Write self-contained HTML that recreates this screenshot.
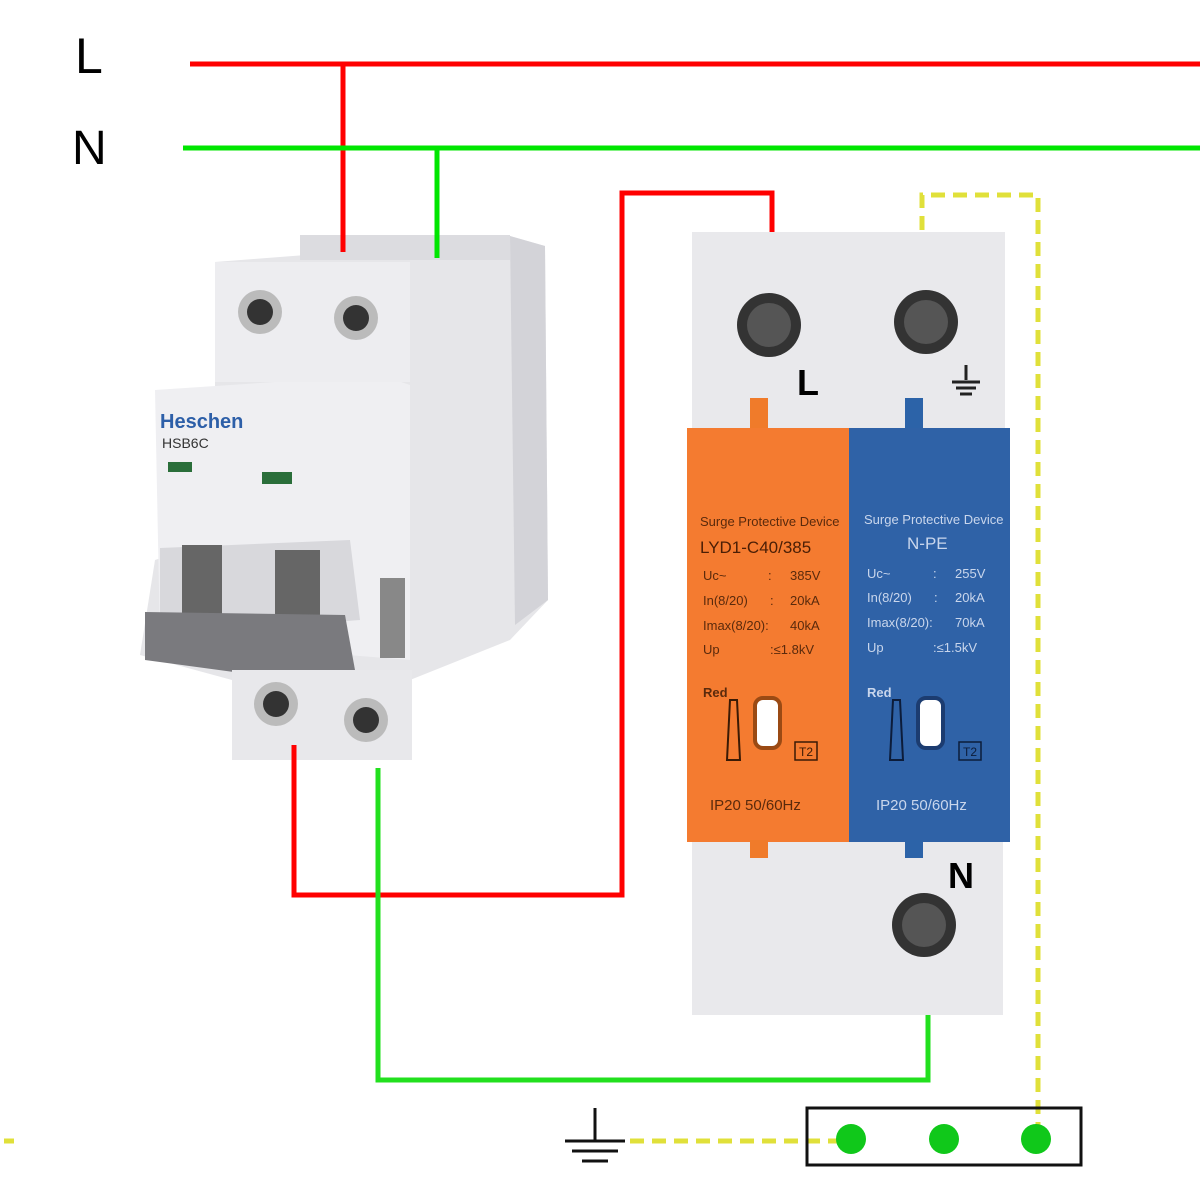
<!DOCTYPE html>
<html><head><meta charset="utf-8"><style>
body{margin:0;width:1200px;height:1200px;background:#fff;overflow:hidden;font-family:"Liberation Sans",sans-serif}
.a{position:absolute}
</style></head><body>
<svg class="a" style="left:0;top:0" width="1200" height="1200" viewBox="0 0 1200 1200">
<text x="75" y="73" font-size="50" font-family="Liberation Sans">L</text>
<text x="72" y="164" font-size="48" font-family="Liberation Sans">N</text>
<!-- breaker -->
<polygon points="215,262 345,252 510,236 545,246 548,600 510,640 410,680 410,740 300,760 232,745 232,680 140,655 155,560 215,540" fill="#e6e6e9"/>
<polygon points="510,236 545,246 548,600 515,625" fill="#d3d3d8"/>
<polygon points="155,390 380,375 410,385 410,660 160,640" fill="#efeff2"/>
<rect x="215" y="262" width="195" height="120" fill="#ededf0"/>
<rect x="300" y="235" width="210" height="25" fill="#dcdce0"/>
<circle cx="260" cy="312" r="22" fill="#bbb"/><circle cx="260" cy="312" r="13" fill="#333"/>
<circle cx="356" cy="318" r="22" fill="#bbb"/><circle cx="356" cy="318" r="13" fill="#333"/>
<text x="160" y="428" font-size="20" font-weight="bold" fill="#2d5fa8">Heschen</text>
<text x="162" y="448" font-size="14" fill="#333">HSB6C</text>
<rect x="168" y="462" width="24" height="10" fill="#2a6e3a"/>
<rect x="262" y="472" width="30" height="12" fill="#2a6e3a"/>
<polygon points="160,548 350,540 360,620 160,635" fill="#d8d8dc"/>
<rect x="182" y="545" width="40" height="80" fill="#666"/>
<rect x="275" y="550" width="45" height="80" fill="#666"/>
<polygon points="145,612 345,615 355,670 330,685 145,660" fill="#7a7a7e"/>
<rect x="380" y="578" width="25" height="80" fill="#888"/>
<rect x="232" y="670" width="180" height="90" fill="#e8e8eb"/>
<circle cx="276" cy="704" r="22" fill="#bbb"/><circle cx="276" cy="704" r="13" fill="#333"/>
<circle cx="366" cy="720" r="22" fill="#bbb"/><circle cx="366" cy="720" r="13" fill="#333"/>
<!-- SPD -->
<rect x="692" y="232" width="313" height="200" fill="#e9e9ec"/>
<rect x="692" y="842" width="311" height="173" fill="#e9e9ec"/>
<circle cx="769" cy="325" r="32" fill="#333"/><circle cx="769" cy="325" r="22" fill="#555"/>
<circle cx="926" cy="322" r="32" fill="#333"/><circle cx="926" cy="322" r="22" fill="#555"/>
<circle cx="924" cy="925" r="32" fill="#333"/><circle cx="924" cy="925" r="22" fill="#555"/>
<text x="797" y="395" font-size="36" font-weight="bold">L</text>
<text x="948" y="888" font-size="36" font-weight="bold">N</text>
<g stroke="#222" stroke-width="3"><line x1="966" y1="365" x2="966" y2="380"/><line x1="952" y1="382" x2="980" y2="382"/><line x1="956" y1="388" x2="976" y2="388"/><line x1="960" y1="394" x2="972" y2="394"/></g>
<rect x="750" y="398" width="18" height="32" fill="#f07b2a"/>
<rect x="905" y="398" width="18" height="32" fill="#2c63a8"/>
<rect x="687" y="428" width="162" height="414" fill="#f47b30"/>
<rect x="849" y="428" width="161" height="414" fill="#2f62a7"/>
<rect x="750" y="840" width="18" height="18" fill="#f07b2a"/>
<rect x="905" y="840" width="18" height="18" fill="#2c63a8"/>
<g fill="#5a2a0c" font-size="13"><text x="700" y="526">Surge Protective Device</text>
<text x="700" y="553" font-size="17" fill="#4a1e05">LYD1-C40/385</text>
<text x="703" y="580">Uc~</text><text x="768" y="580">:</text><text x="790" y="580">385V</text>
<text x="703" y="605">In(8/20)</text><text x="770" y="605">:</text><text x="790" y="605">20kA</text>
<text x="703" y="630">Imax(8/20):</text><text x="790" y="630">40kA</text>
<text x="703" y="654">Up</text><text x="770" y="654">:≤1.8kV</text>
<text x="703" y="697" font-weight="bold">Red</text>
<text x="710" y="810" font-size="15">IP20  50/60Hz</text></g>
<g fill="#c9d6ec" font-size="13"><text x="864" y="524">Surge Protective Device</text>
<text x="907" y="549" font-size="17">N-PE</text>
<text x="867" y="578">Uc~</text><text x="933" y="578">:</text><text x="955" y="578">255V</text>
<text x="867" y="602">In(8/20)</text><text x="934" y="602">:</text><text x="955" y="602">20kA</text>
<text x="867" y="627">Imax(8/20):</text><text x="955" y="627">70kA</text>
<text x="867" y="652">Up</text><text x="933" y="652">:≤1.5kV</text>
<text x="867" y="697" font-weight="bold">Red</text>
<text x="876" y="810" font-size="15">IP20  50/60Hz</text></g>
<rect x="755" y="698" width="25" height="50" rx="8" fill="#fff" stroke="#9a4a14" stroke-width="4"/>
<rect x="918" y="698" width="25" height="50" rx="8" fill="#fff" stroke="#1c3c70" stroke-width="4"/>
<polygon points="730,700 737,700 740,760 727,760" fill="none" stroke="#3a1a05" stroke-width="2"/>
<polygon points="893,700 900,700 903,760 890,760" fill="none" stroke="#0c1c3a" stroke-width="2"/>
<rect x="795" y="742" width="22" height="18" fill="none" stroke="#3a1a05" stroke-width="1.5"/><text x="799" y="756" font-size="12" fill="#3a1a05">T2</text>
<rect x="959" y="742" width="22" height="18" fill="none" stroke="#0c1c3a" stroke-width="1.5"/><text x="963" y="756" font-size="12" fill="#0c1c3a">T2</text>
<!-- wires -->
<g fill="none" stroke-width="5">
<path d="M190 64H1200M343 64V252" stroke="#ff0000"/>
<path d="M183 148H1200M437 148V258" stroke="#00e600"/>
<path d="M294 745V895H622V193H772V232" stroke="#ff0000"/>
<path d="M378 768V1080H928V1015" stroke="#22e01e"/>
<path d="M922 230V195H1038V1138M630 1141H840" stroke="#e0e03a" stroke-dasharray="14,8"/>
<path d="M4 1141H14" stroke="#e0e03a"/>
</g>
<g stroke="#111" stroke-width="3"><line x1="595" y1="1108" x2="595" y2="1141"/><line x1="565" y1="1141" x2="625" y2="1141"/><line x1="572" y1="1151" x2="618" y2="1151"/><line x1="582" y1="1161" x2="608" y2="1161"/></g>
<rect x="807" y="1108" width="274" height="57" fill="none" stroke="#111" stroke-width="3"/>
<circle cx="851" cy="1139" r="15" fill="#10c81a"/><circle cx="944" cy="1139" r="15" fill="#10c81a"/><circle cx="1036" cy="1139" r="15" fill="#10c81a"/>
</svg>
</body></html>
